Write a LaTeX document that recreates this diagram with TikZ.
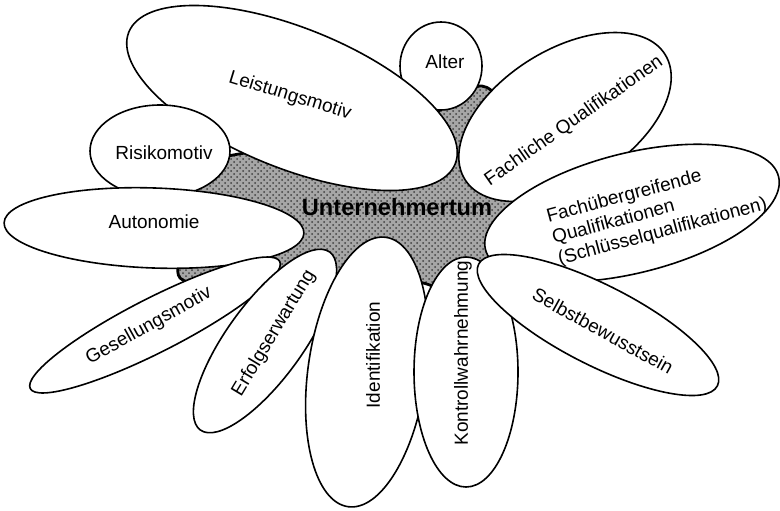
\documentclass[tikz,border=0pt]{standalone}
\usepackage{fontspec}
\setmainfont{Liberation Sans}
\usetikzlibrary{shapes.geometric,patterns}
\tikzset{
  every node/.style={font=\fontsize{9.5}{11}\selectfont},
  petal/.style={ellipse,draw=black,line width=0.8pt,fill=white,inner sep=0pt,outer sep=0pt},
  lbl/.style={inner sep=0pt,align=left},
  blob/.style={draw=black,line width=1.4pt,preaction={fill=black!35},pattern=crosshatch dots,pattern color=black!75},
  core/.style={font=\fontsize{11.8}{14}\selectfont\bfseries,inner sep=0pt},
}

\begin{document}
\begin{tikzpicture}[x=0.5pt,y=0.5pt]
  \useasboundingbox (0,0) rectangle (780,510);
  % grauer Kern
  \draw[blob] plot[smooth cycle] coordinates {(205,345) (300,365) (420,390) (482,424) (515,380) (545,275) (518,198) (465,210) (416,228) (365,210) (300,230) (230,225) (180,232) (185,275)};
  % Ellipsen, von hinten nach vorne
  \foreach \nm/\px/\py/\rx/\ry/\ang in {
      alter/441/444/41/44/0,
      leist/292/412/176/70/-22,
      risiko/160/359/70/46/0,
      auto/154/282/150/40/-2,
      fach/565/393/118/67/32,
      ueber/632/297/151/60/14,
      gesell/155/185/140/27/27,
      erfolg/265/169/110/38/54,
      ident/367/138/59/136/-8,
      kontr/466/138/52/115/0,
      selbst/598/185/134/40/-27}
    \node[petal,minimum width=\rx pt,minimum height=\ry pt,rotate=\ang] (\nm) at (\px,\py) {};
  % Beschriftungen
  \node[lbl] (alter-t) at (445,448) {Alter};
  \node[lbl,rotate=-17] (leist-t) at (290,414) {Leistungsmotiv};
  \node[lbl] (risiko-t) at (164,357) {Risikomotiv};
  \node[lbl] (auto-t) at (154,288) {Autonomie};
  \node[lbl,rotate=35] (fach-t) at (574,389) {Fachliche Qualifikationen};
  \node[lbl,rotate=15] (ueber-t) at (657,299) {Fachübergreifende\\Qualifikationen\\(Schlüsselqualifikationen)};
  \node[lbl,rotate=29] (gesell-t) at (149,184) {Gesellungsmotiv};
  \node[lbl,rotate=59] (erfolg-t) at (274,177) {Erfolgserwartung};
  \node[lbl,rotate=90] (ident-t) at (373,155) {Identifikation};
  \node[lbl,rotate=90] (kontr-t) at (463,157) {Kontrollwahrnehmung};
  \node[lbl,rotate=-29] (selbst-t) at (603,179) {Selbstbewusstsein};
  \node[core] (kern) at (397,303) {Unternehmertum};
\end{tikzpicture}
\end{document}
